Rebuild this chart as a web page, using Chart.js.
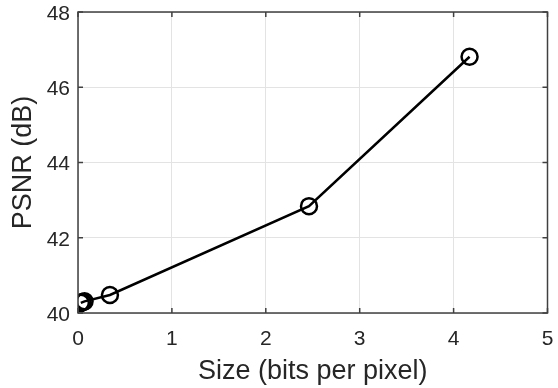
<!DOCTYPE html>
<html>
<head>
<meta charset="utf-8">
<script src="https://cdn.jsdelivr.net/npm/chart.js@4"></script>
<style>
  html, body { margin: 0; padding: 0; background: #fff; }
  #c { display: block; }
</style>
</head>
<body>
<canvas id="c" width="558" height="388"></canvas>
<script>
// data
const sizeBpp = [0.03, 0.05, 0.07, 0.34, 2.46, 4.17];
const psnrDb = [40.27, 40.29, 40.31, 40.48, 42.84, 46.81];
const xTicks = [0, 1, 2, 3, 4, 5];
const yTicks = [40, 42, 44, 46, 48];

const textColor = '#262626';
const axisColor = '#404040';
const fontFamily = '"Liberation Sans", Arial, sans-serif';

// MATLAB-style box with inward tick marks
const boxPlugin = {
  id: 'box',
  afterDatasetsDraw(chart) {
    const { ctx, chartArea: a, scales } = chart;
    ctx.save();
    ctx.strokeStyle = axisColor;
    ctx.lineWidth = 1.5;
    ctx.strokeRect(a.left, a.top, a.right - a.left, a.bottom - a.top);
    ctx.beginPath();
    xTicks.forEach(v => {
      const x = scales.x.getPixelForValue(v);
      ctx.moveTo(x, a.bottom); ctx.lineTo(x, a.bottom - 5);
      ctx.moveTo(x, a.top); ctx.lineTo(x, a.top + 5);
    });
    yTicks.forEach(v => {
      const y = scales.y.getPixelForValue(v);
      ctx.moveTo(a.left, y); ctx.lineTo(a.left + 5, y);
      ctx.moveTo(a.right, y); ctx.lineTo(a.right - 5, y);
    });
    ctx.stroke();
    ctx.restore();
  }
};

new Chart(document.getElementById('c').getContext('2d'), {
  type: 'scatter',
  data: {
    datasets: [{
      data: sizeBpp.map((x, i) => ({ x, y: psnrDb[i] })),
      showLine: true,
      borderColor: '#000',
      backgroundColor: 'rgba(0,0,0,0)',
      borderWidth: 2.5,
      pointRadius: 8,
      pointBorderWidth: 2.5,
      pointBorderColor: '#000',
      pointBackgroundColor: 'rgba(0,0,0,0)'
    }]
  },
  options: {
    responsive: false,
    animation: false,
    layout: { padding: { left: 0, top: 12, right: 6, bottom: 0 } },
    plugins: { legend: { display: false }, tooltip: { enabled: false } },
    scales: {
      x: {
        type: 'linear', min: 0, max: 5,
        afterBuildTicks: s => { s.ticks = xTicks.map(v => ({ value: v })); },
        afterFit: s => { s.height = 75; s.paddingLeft = 0; s.paddingRight = 0; },
        grid: { color: '#e3e3e3', drawTicks: false },
        border: { display: false },
        ticks: { color: textColor, padding: 14, maxRotation: 0, font: { family: fontFamily, size: 21 } },
        title: { display: true, text: 'Size (bits per pixel)', color: textColor,
                 padding: { top: 0, bottom: 0 }, font: { family: fontFamily, size: 27 } }
      },
      y: {
        type: 'linear', min: 40, max: 48,
        afterBuildTicks: s => { s.ticks = yTicks.map(v => ({ value: v })); },
        afterFit: s => { s.width = 78; s.paddingTop = 0; s.paddingBottom = 0; },
        grid: { color: '#e3e3e3', drawTicks: false },
        border: { display: false },
        ticks: { color: textColor, padding: 8, labelOffset: 2, font: { family: fontFamily, size: 21 } },
        title: { display: true, text: 'PSNR (dB)', color: textColor,
                 padding: { top: 7, bottom: 0 }, font: { family: fontFamily, size: 27 } }
      }
    }
  },
  plugins: [boxPlugin]
});
</script>
</body>
</html>
